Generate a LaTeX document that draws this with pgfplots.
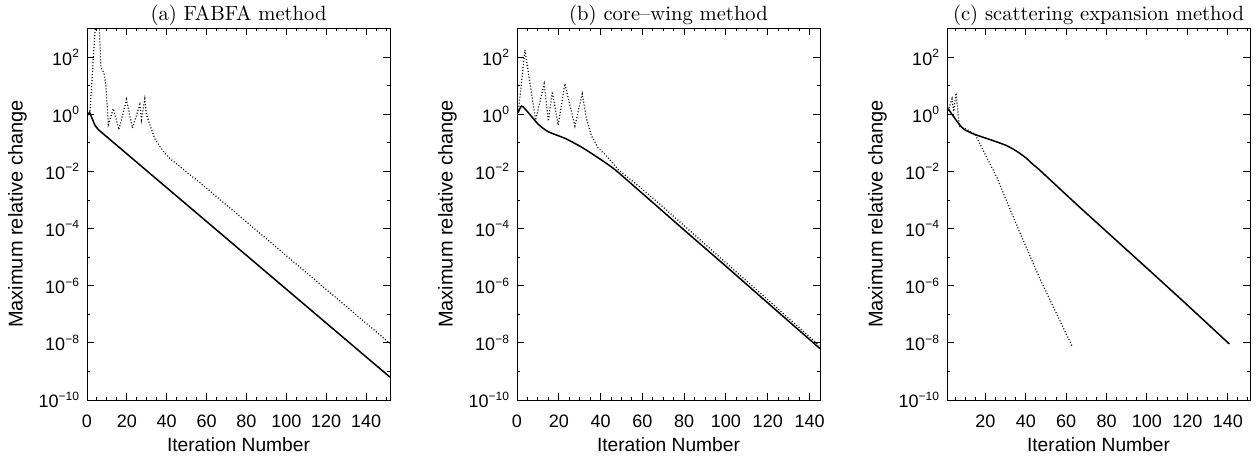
\documentclass[border=0pt]{standalone}
\usepackage{pgfplots}
\pgfplotsset{compat=1.18}
\usepackage{fontspec}
\setsansfont{Liberation Sans}
\pgfplotsset{
  scale only axis, width=151.5pt, height=186pt,
  ymin=1e-10, ymax=1.05e3,
  ytick={1e-10,1e-8,1e-6,1e-4,1e-2,1,1e2},
  yticklabels={10\textsuperscript{−10},10\textsuperscript{−8},10\textsuperscript{−6},10\textsuperscript{−4},10\textsuperscript{−2},10\textsuperscript{0},10\textsuperscript{2}},
  minor ytick={1e-9,1e-7,1e-5,1e-3,1e-1,10},
  minor xtick={5,10,...,150},
  major tick length=3.3pt, minor tick length=1.7pt,
  tick style={black, line width=0.5pt},
  axis line style={line width=0.5pt},
  tick label style={font=\sffamily\fontsize{9}{10}\selectfont},
  /pgf/number format/assume math mode=true,
  xticklabel style={yshift=-4pt},
  every axis title/.style={font=\rmfamily\fontsize{10.3}{12}\selectfont, at={(axis description cs:0.5,1.0215)}, anchor=base},
  xlabel={Iteration Number},
  xlabel style={font=\sffamily\fontsize{9.6}{11}\selectfont, at={(axis description cs:0.5,-0.1387)}, anchor=base},
  ylabel={Maximum relative change},
  ylabel style={font=\sffamily\fontsize{10}{12}\selectfont, at={(axis description cs:-0.2294,0.5)}, anchor=center},
}
\tikzset{
 mysol/.style={black, line width=0.75pt},
 mydot/.style={black, line width=0.6pt, dash pattern=on 0.5pt off 1pt},
}
\begin{document}
\begin{tikzpicture}
\useasboundingbox (0,0) rectangle (630pt,231pt);
% (a)
\begin{axis}[ymode=log, at={(43.5pt,31pt)}, anchor=south west, xmin=0, xmax=152, xtick={0,20,...,140}, title={(a) FABFA method}]
\addplot[mysol, mark=none] coordinates {(0,0.89) (1.3,1.17) (4,0.41) (5.7,0.29) (152,6.3e-10)};
\addplot[mydot, mark=none] coordinates {(0,0.89) (1,1.0) (1.5,1.2) (4,800) (5,3000) (6.2,1000) (7,42) (7.8,35) (8.5,28) (9.5,9.5) (10.7,0.44) (13.2,1.58) (16,0.29) (19.8,3.31) (22.8,0.33) (26.5,2.19) (27.3,0.65) (29,3.47) (29.8,1.0) (31.5,0.44) (34,0.141) (36.5,0.0759) (39,0.0437) (42,0.0269) (46.5,0.0151) (51,8.3e-3) (56.5,4.17e-3) (71.5,5.4e-4) (96.5,1.82e-5) (152,9.55e-9)};
\end{axis}
% (b)
\begin{axis}[ymode=log, at={(258.5pt,31pt)}, anchor=south west, xmin=0, xmax=145, xtick={0,20,...,140}, title={(b) core\textendash wing method}]
\addplot[mysol, mark=none, smooth, tension=0.4] coordinates {(0.6,1.15) (2.2,1.95) (5.4,1.15) (10.2,0.447) (15,0.245) (22.9,0.145) (30.9,0.0708) (38.8,0.0302) (46.8,0.0117) (60,1.7e-3) (80,8.9e-5) (100,4.8e-6) (120,2.5e-7) (145,6.3e-9)};
\addplot[mydot, mark=none] coordinates {(0.6,1.15) (3.8,178) (8.9,0.62) (13,11.7) (15,0.575) (16.9,6.2) (19.7,0.42) (22.9,11.7) (27.7,0.39) (31.2,5.25) (33.3,0.66) (35.7,0.174) (38.8,0.0676) (43.6,0.0302) (48.4,0.0117) (60,2.4e-3) (68.4,7.1e-4) (93.1,1.78e-5) (144.5,8.3e-9)};
\end{axis}
% (c)
\begin{axis}[ymode=log, at={(473.5pt,31pt)}, anchor=south west, xmin=1, xmax=151, xtick={20,40,...,140}, title={(c) scattering expansion method}]
\addplot[mysol, mark=none, smooth, tension=0.4] coordinates {(1.5,1.58) (4.5,0.79) (7.6,0.40) (10,0.282) (15,0.195) (22.5,0.129) (30,0.0832) (35,0.0537) (40,0.0302) (43.5,0.0178) (47.3,0.0105) (63.9,8.5e-4) (80.4,7.4e-5) (100,4.1e-6) (120,2.1e-7) (140.8,9.1e-9)};
\addplot[mydot, mark=none] coordinates {(1.5,1.3) (3.5,3.5) (4.3,1.26) (5.5,5.6) (7.1,0.38) (11,0.29) (15,0.195) (25.8,5.9e-3) (36.5,8.9e-5) (47.3,1.58e-6) (63.1,7.2e-9)};
\end{axis}
\end{tikzpicture}
\end{document}
